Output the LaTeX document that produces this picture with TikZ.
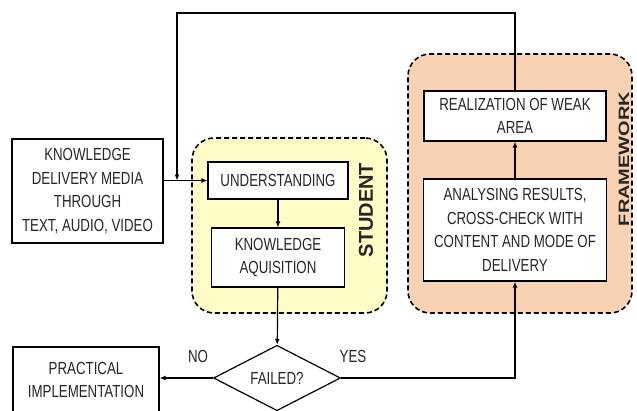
\documentclass[tikz,border=0pt]{standalone}
\usepackage{fontspec}
\setmainfont{Liberation Sans}
\newfontfamily\boxfont[FakeStretch=0.76]{Liberation Sans}
\usetikzlibrary{positioning,shapes.geometric,arrows.meta}
\definecolor{studentfill}{HTML}{FFFCC8}
\definecolor{frameworkfill}{HTML}{F9D2B3}
\tikzset{
	flowbox/.style={draw, line width=1.2pt, fill=white, align=center, inner sep=0pt, text=black!85, font=\boxfont\fontsize{17.5}{23.5}\selectfont},
	region/.style={draw, dash pattern=on 5pt off 3pt, line width=1.6pt, rounded corners=22pt},
	link/.style={line width=1.2pt, -{Latex[length=6pt,width=5pt]}},
	tag/.style={font=\bfseries\fontsize{20}{20}\selectfont, text=black!85, rotate=90},
	answer/.style={font=\boxfont\fontsize{17.5}{20}\selectfont, text=black!85}
}

\begin{document}
\begin{tikzpicture}[x=1pt, y=-1pt]
		%%%%% START %%%%%
		\useasboundingbox (0,0) rectangle (637,410);
		\fill[white] (0,0) rectangle (637,410);
		
		\node[region, fill=studentfill, minimum width=195pt, minimum height=175pt] (student) at (289.5,225.5) {};
		\node[region, fill=frameworkfill, minimum width=224pt, minimum height=259pt] (framework) at (520,183.5) {};
		
		\node[flowbox, minimum width=151pt, minimum height=104pt] (media) at (87.5,191) {KNOWLEDGE\\DELIVERY MEDIA\\THROUGH\\TEXT, AUDIO, VIDEO};
		\node[flowbox, minimum width=140pt, minimum height=37pt] (understand) at (278,180.5) {UNDERSTANDING};
		\node[flowbox, minimum width=133pt, minimum height=59pt] (acquire) at (278,257.5) {KNOWLEDGE\\AQUISITION};
		
		\node[flowbox, minimum width=182pt, minimum height=50pt] (realize) at (515,116) {REALIZATION OF WEAK\\AREA};
		\node[flowbox, minimum width=183pt, minimum height=102pt] (analyse) at (515,230) {ANALYSING RESULTS,\\CROSS-CHECK WITH\\CONTENT AND MODE OF\\DELIVERY};
		
		\node[flowbox, shape=diamond, minimum width=127pt, minimum height=60pt] (failed) at (277,378) {FAILED?};
		\node[flowbox, minimum width=146pt, minimum height=66pt] (practical) at (86,380) {PRACTICAL\\IMPLEMENTATION};
		
		\node[tag] (studenttag) at (366,210) {STUDENT};
		\node[tag] (frameworktag) at (624,159) {\scalebox{1}[0.75]{FRAMEWORK}};
		\node[answer] (no) at (198,356) {NO};
		\node[answer] (yes) at (353,356) {YES};
		
		\coordinate (fbtop) at (177,13);
		\coordinate (fbend) at (177,180.5);
		
		\draw[link] (media.east |- understand.west) -- (understand.west);
		\draw[link] (understand) -- (acquire);
		\draw[link] (acquire) -- (failed);
		\draw[link] (failed.west) -- (practical.east |- failed.west);
		\draw[link] (failed.east) -| (analyse.south);
		\draw[link] (analyse) -- (realize);
		\draw[link] (realize.north) |- (fbtop) -- (fbend);
		
		%%%%% END %%%%%
\end{tikzpicture}
\end{document}
